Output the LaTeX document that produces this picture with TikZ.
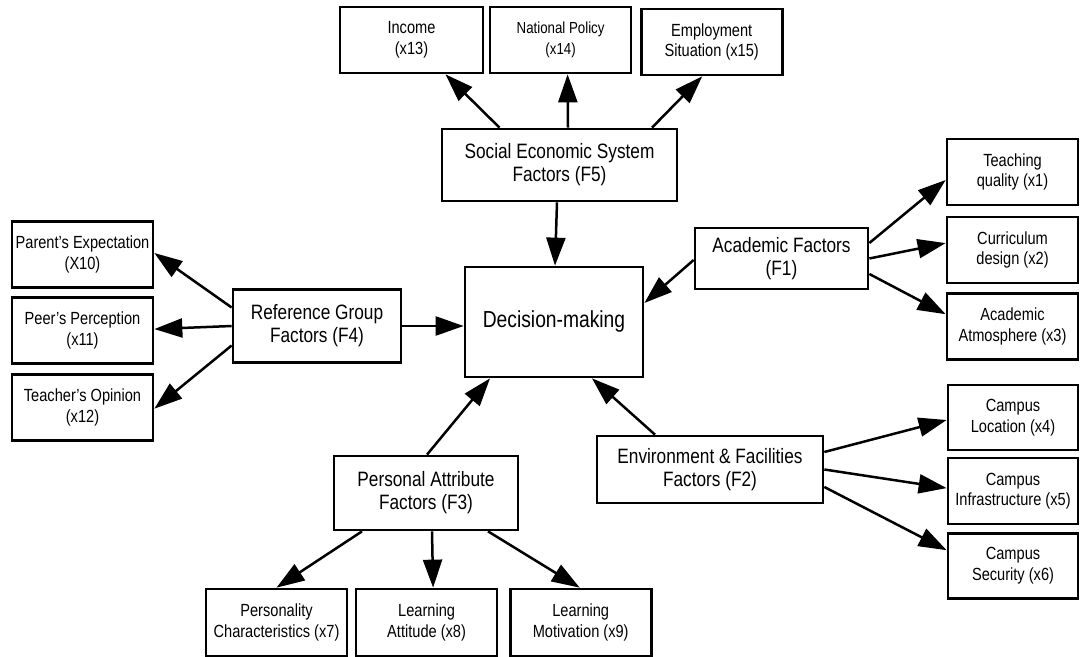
\documentclass[tikz,border=0pt]{standalone}
\usepackage{fontspec}
\setmainfont{Liberation Sans}[FakeStretch=0.83]
\usepackage{tikz}
\usetikzlibrary{arrows.meta,positioning,calc}
\newcommand{\bigfnt}{\fontsize{10.4}{11.5}\selectfont}
\newcommand{\smallfnt}{\fontsize{8.8}{10.3}\selectfont}

\begin{document}
\begin{tikzpicture}[x=0.5pt,y=-0.5pt,
  factor/.style={draw,line width=1.35pt,align=center,inner sep=0pt,font=\bigfnt},
  item/.style={draw,line width=1.35pt,align=center,inner sep=0pt,font=\smallfnt,minimum width=70.5pt,minimum height=33pt},
  arr/.style={line width=1.25pt,-{Triangle[length=14pt,width=9.5pt]}}]
\useasboundingbox (0,0) rectangle (1081,657);
\node[factor,font=\fontsize{11.6}{13}\selectfont,minimum width=89pt,minimum height=55pt] (dm) at (554,322) {Decision-making};
\node[factor,minimum width=117.5pt,minimum height=36pt] (f5) at (559.5,165) {Social Economic System\\Factors (F5)};
\node[factor,minimum width=86.5pt,minimum height=30.5pt] (f1) at (781.5,258.5) {Academic Factors\\(F1)};
\node[factor,minimum width=84pt,minimum height=36.5pt] (f4) at (317,326) {Reference Group\\Factors (F4)};
\node[factor,minimum width=113pt,minimum height=33.5pt] (f2) at (710,469.5) {Environment \& Facilities\\Factors (F2)};
\node[factor,minimum width=92pt,minimum height=37pt] (f3) at (426,493) {Personal Attribute\\Factors (F3)};
\node[item,minimum width=71.5pt] (x13) at (411.5,40) {Income\\(x13)};
\node[item,font=\fontsize{8}{10.3}\selectfont,right=2.2pt of x13] (x14) {National Policy\\(x14)};
\node[item,right=3.7pt of x14,yshift=-1pt] (x15) {Employment\\Situation (x15)};
\node[item,minimum width=65.5pt] (x1) at (1012.5,172) {Teaching\\quality (x1)};
\node[item,minimum width=65.5pt,below=4.7pt of x1] (x2) {Curriculum\\design (x2)};
\node[item,minimum width=65.5pt,below=3.7pt of x2] (x3) {Academic\\Atmosphere (x3)};
\node[item] (x10) at (82.5,254.5) {Parent's Expectation\\(X10)};
\node[item,below=3.7pt of x10] (x11) {Peer's Perception\\(x11)};
\node[item,below=4.2pt of x11] (x12) {Teacher's Opinion\\(x12)};
\node[item,minimum width=65pt,minimum height=32.5pt] (x4) at (1013,417.5) {Campus\\Location (x4)};
\node[item,minimum width=65pt,below=2.7pt of x4] (x5) {Campus\\Infrastructure (x5)};
\node[item,minimum width=65pt,minimum height=32.5pt,below=3.2pt of x5] (x6) {Campus\\Security (x6)};
\node[item,minimum height=33.5pt] (x7) at (276.5,622.5) {Personality\\Characteristics (x7)};
\node[item,minimum height=33.5pt,right=3.2pt of x7] (x8) {Learning\\Attitude (x8)};
\node[item,minimum height=33.5pt,right=5.2pt of x8] (x9) {Learning\\Motivation (x9)};
\draw[arr] ($(f5.north)+(-60,0)$) -- ($(x13.south)+(34,0)$);
\draw[arr] ($(f5.north)+(8.5,0)$) -- ($(x14.south)+(7,0)$);
\draw[arr] ($(f5.north)+(92.5,0)$) -- ($(x15.south)+(-9.5,0)$);
\draw[arr] ($(f5.south)+(-2.5,0)$) -- ($(dm.north)+(1,0)$);
\draw[arr] ($(f1.west)+(0,1.5)$) -- ($(dm.east)+(0,-19)$);
\draw[arr] ($(f1.east)+(0,-15.5)$) -- ($(x1.west)+(0,8)$);
\draw[arr] (f1.east) -- ($(x2.west)+(0,-7)$);
\draw[arr] ($(f1.east)+(0,15.5)$) -- ($(x3.west)+(0,-12)$);
\draw[arr] ($(f4.west)+(0,-18.5)$) -- ($(x10.east)+(0,-1.5)$);
\draw[arr] (f4.west) -- ($(x11.east)+(0,-1.5)$);
\draw[arr] ($(f4.west)+(0,19.5)$) -- ($(x12.east)+(0,1)$);
\draw[arr] (f4.east) -- (f4.east -| dm.west);
\draw[arr] ($(f2.north)+(-55,0)$) -- ($(dm.south)+(38,0)$);
\draw[arr] ($(f2.east)+(0,-17.5)$) -- ($(x4.west)+(0,2.5)$);
\draw[arr] (f2.east) -- ($(x5.west)+(0,-3)$);
\draw[arr] ($(f2.east)+(0,17.5)$) -- ($(x6.west)+(0,-15.5)$);
\draw[arr] ($(f3.north)+(1,0)$) -- ($(dm.south)+(-64,0)$);
\draw[arr] ($(f3.south)+(-64,0)$) -- (x7.north);
\draw[arr] ($(f3.south)+(6,0)$) -- ($(x8.north)+(6.5,0)$);
\draw[arr] ($(f3.south)+(62,0)$) -- ($(x9.north)+(-1,0)$);
\end{tikzpicture}
\end{document}
